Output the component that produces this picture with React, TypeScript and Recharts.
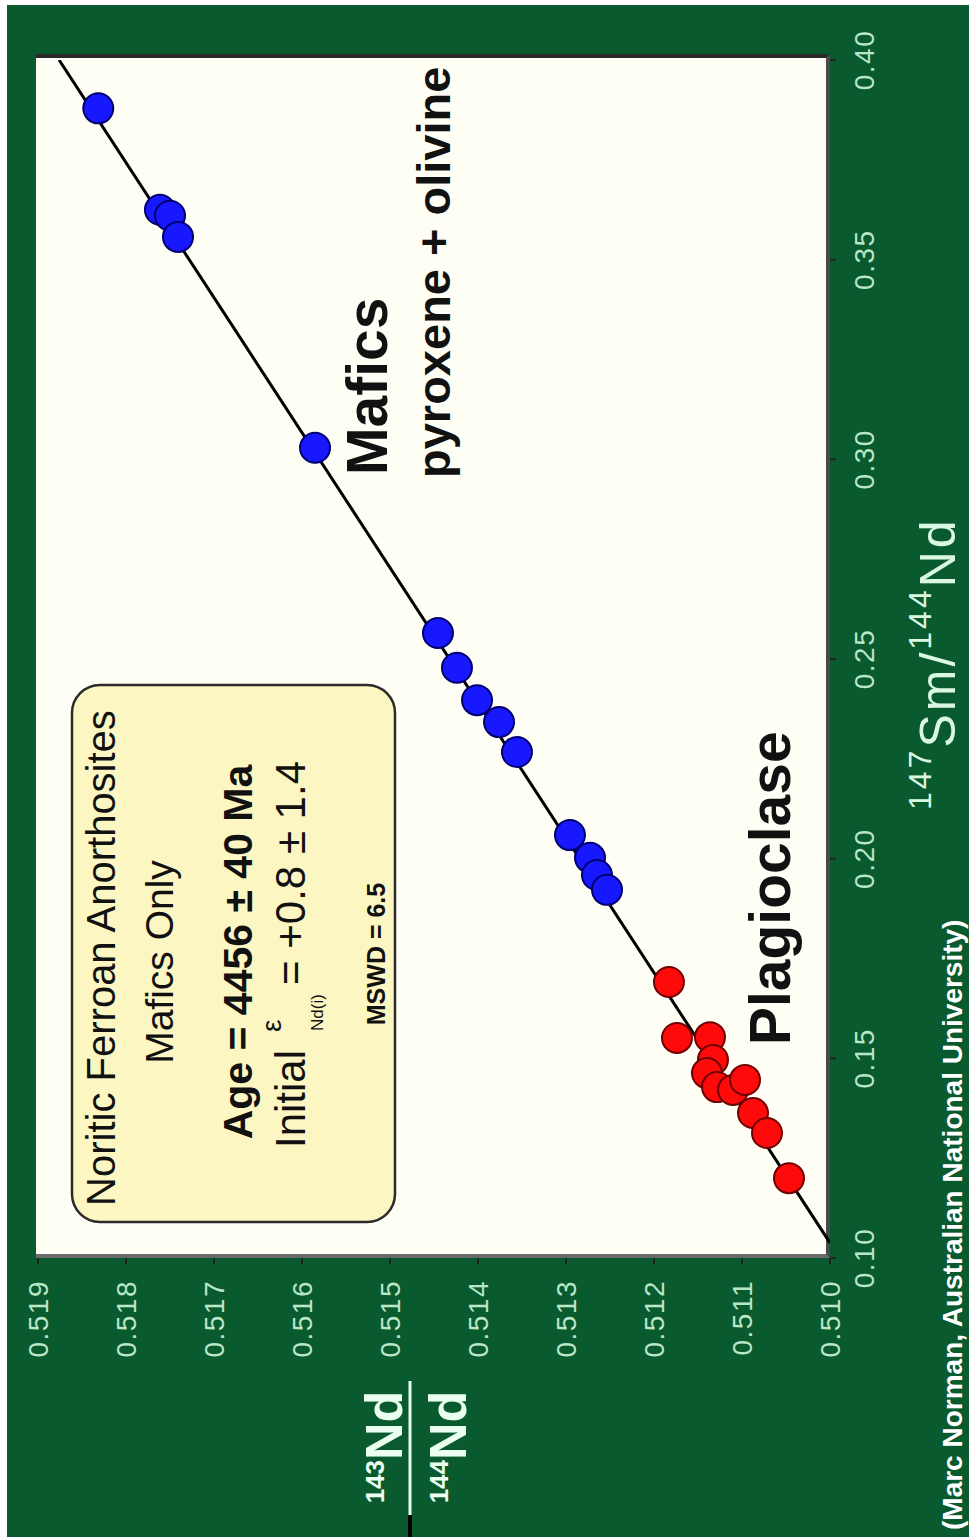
import React from 'react';
import { ScatterChart, Scatter, XAxis, YAxis } from 'recharts';

// ---- data ----
const smTicks = [0.1, 0.15, 0.2, 0.25, 0.3, 0.35, 0.4];
const smTickLabels = ['0.10', '0.15', '0.20', '0.25', '0.30', '0.35', '0.40'];
const ndTicks = [0.51, 0.511, 0.512, 0.513, 0.514, 0.515, 0.516, 0.517, 0.518, 0.519];
const ndTickLabels = ['0.510', '0.511', '0.512', '0.513', '0.514', '0.515', '0.516', '0.517', '0.518', '0.519'];

// Mafics (pyroxene + olivine)
const maficSm = [0.3879, 0.3625, 0.361, 0.3557, 0.3029, 0.2565, 0.2478, 0.2397, 0.2342, 0.2267, 0.2059, 0.2002, 0.1959, 0.1922];
const maficNd = [0.518315, 0.517614, 0.5175, 0.517409, 0.515852, 0.514455, 0.514239, 0.514011, 0.513761, 0.513557, 0.512955, 0.512727, 0.512648, 0.512534];

// Plagioclase
const plagSm = [0.1691, 0.1551, 0.1553, 0.1496, 0.1463, 0.1428, 0.1421, 0.1446, 0.1363, 0.1313, 0.12];
const plagNd = [0.51183, 0.511739, 0.511364, 0.51133, 0.511398, 0.511284, 0.511102, 0.510966, 0.510875, 0.510716, 0.510466];

// Isochron (regression line end points)
const isoSm = [0.1038, 0.4];
const isoNd = [0.51, 0.51876];

const maficData = maficSm.map((x, i) => ({ x, y: maficNd[i] }));
const plagData = plagSm.map((x, i) => ({ x, y: plagNd[i] }));
const isoData = isoSm.map((x, i) => ({ x, y: isoNd[i] }));

const W = 1537;
const H = 969;
const FONT = 'Arial, "Liberation Sans", sans-serif';
const TICK_COLOR = '#b9e6c6';

const XTick = (props: any) => {
  const idx = smTicks.findIndex((t) => Math.abs(t - props.payload.value) < 1e-9);
  return (
    <text x={props.x} y={874} textAnchor="middle" fill={TICK_COLOR} fontSize={28} letterSpacing={1.5} fontFamily={FONT}>
      {idx >= 0 ? smTickLabels[idx] : props.payload.value}
    </text>
  );
};

const YTick = (props: any) => {
  const idx = ndTicks.findIndex((t) => Math.abs(t - props.payload.value) < 1e-9);
  return (
    <text x={257} y={props.y} textAnchor="end" dominantBaseline="central" fill={TICK_COLOR} fontSize={28} letterSpacing={1.5} fontFamily={FONT}>
      {idx >= 0 ? ndTickLabels[idx] : props.payload.value}
    </text>
  );
};

const Dot = (color: string, edge: string) => (props: any) =>
  <circle cx={props.cx} cy={props.cy} r={15} fill={color} stroke={edge} strokeWidth={2} />;

export default function App() {
  return (
    <div style={{ position: 'absolute', left: 0, top: 0, width: 969, height: 1537, overflow: 'hidden', background: '#ffffff' }}>
      <div
        style={{
          position: 'absolute', left: 0, top: 0, width: W, height: H,
          transformOrigin: '0 0', transform: `translate(0px, ${W}px) rotate(-90deg)`,
          fontFamily: FONT,
        }}
      >
        {/* green slide background */}
        <div style={{ position: 'absolute', left: 0, top: 7, width: 1532, height: 962, background: '#0a5a2f' }} />
        {/* plot background */}
        <div
          style={{
            position: 'absolute', left: 279, top: 36, width: 1204, height: 794, boxSizing: 'border-box',
            background: '#fffef4', borderRight: '4px solid #2a2a2a', borderBottom: '4px solid #4a4a4a', borderLeft: '4px solid #6a6a6a',
          }}
        />
        <div style={{ position: 'absolute', left: 0, top: 0 }}>
          <ScatterChart width={W} height={H} margin={{ top: 38, right: 60, bottom: 99, left: 219 }}>
            <XAxis
              type="number" dataKey="x" domain={[0.1, 0.4]} ticks={smTicks} allowDataOverflow
              height={40} axisLine={false} tickLine={{ stroke: '#222', strokeWidth: 2 }} tickSize={6} tick={<XTick />} interval={0}
            />
            <YAxis
              type="number" dataKey="y" domain={[0.51, 0.519]} ticks={ndTicks} allowDataOverflow
              width={60} axisLine={false} tickLine={{ stroke: '#222', strokeWidth: 2 }} tickSize={6} tick={<YTick />} interval={0}
            />
            <Scatter data={isoData} line={{ stroke: '#000', strokeWidth: 3 }} shape={() => <g />} isAnimationActive={false} />
            <Scatter data={plagData} shape={Dot('#ff0a0a', '#6e0000')} isAnimationActive={false} />
            <Scatter data={maficData} shape={Dot('#1818ff', '#00006e')} isAnimationActive={false} />
          </ScatterChart>
        </div>
        {/* annotations */}
        <svg width={W} height={H} style={{ position: 'absolute', left: 0, top: 0, pointerEvents: 'none' }} fontFamily={FONT}>
          <rect x={315} y={72} width={537} height={323} rx={28} ry={28} fill="#fcf6c2" stroke="#2b2b2b" strokeWidth={2.5} />
          <text x={579} y={115} textAnchor="middle" fontSize={40} fill="#111">Noritic Ferroan Anorthosites</text>
          <text x={575} y={173} textAnchor="middle" fontSize={39} fill="#111">Mafics Only</text>
          <text x={585} y={252} textAnchor="middle" fontSize={41} fontWeight="bold" fill="#111">Age = 4456 ± 40 Ma</text>
          <text x={389} y={305} fontSize={42} fill="#111">Initial</text>
          <text x={505} y={281} fontSize={28} fill="#111">ε</text>
          <text x={506} y={323} fontSize={17} fill="#111">Nd(i)</text>
          <text x={776} y={305} textAnchor="end" fontSize={42} fill="#111">= +0.8 ± 1.4</text>
          <text x={583} y={385} textAnchor="middle" fontSize={25} fontWeight="bold" fill="#111">MSWD = 6.5</text>

          <text x={492} y={790} fontSize={57} fontWeight="bold" fill="#111">Plagioclase</text>
          <text x={1062} y={387} fontSize={57} fontWeight="bold" fill="#111">Mafics</text>
          <text x={1059} y={450} fontSize={47} fontWeight="bold" fill="#111">pyroxene + olivine</text>

          {/* x axis title */}
          <text x={727} y={955} fill="#d9f7e2" fontSize={50} letterSpacing={3}>
            <tspan fontSize={32} dy={-24}>147</tspan>
            <tspan fontSize={50} dy={24}>Sm/</tspan>
            <tspan fontSize={32} dy={-24}>144</tspan>
            <tspan fontSize={50} dy={24}>Nd</tspan>
          </text>

          {/* y axis title (fraction) */}
          <text x={90} y={402} textAnchor="middle" fontWeight="bold" fill="#eafff0" fontSize={52}>
            <tspan fontSize={26} dy={-18}>143</tspan>
            <tspan fontSize={52} dy={18}>Nd</tspan>
          </text>
          <line x1={22} x2={156} y1={410} y2={410} stroke="#eafff0" strokeWidth={3} />
          <line x1={0} x2={22} y1={410} y2={410} stroke="#000" strokeWidth={4} />
          <text x={90} y={466} textAnchor="middle" fontWeight="bold" fill="#eafff0" fontSize={52}>
            <tspan fontSize={26} dy={-18}>144</tspan>
            <tspan fontSize={52} dy={18}>Nd</tspan>
          </text>

          <text x={7} y={962} fontSize={28} fontWeight="bold" fill="#ffffff">(Marc Norman, Australian National University)</text>
        </svg>
      </div>
    </div>
  );
}
